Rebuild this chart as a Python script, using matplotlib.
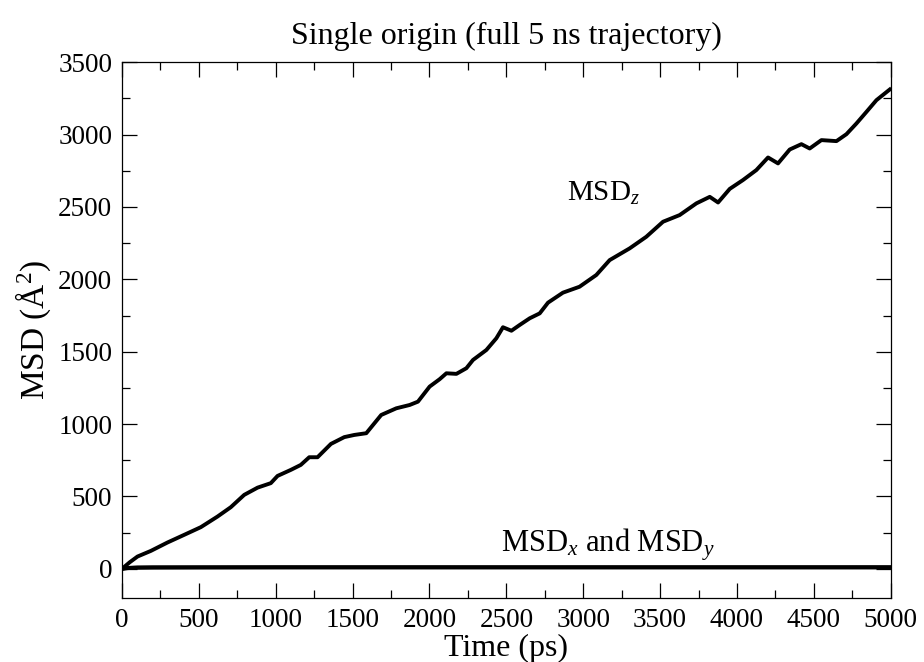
import matplotlib.pyplot as plt
from matplotlib.ticker import MultipleLocator

# values
time_z = [0, 50, 101, 188, 296, 405, 513, 621, 708, 795, 882, 968, 1012, 1099,
          1163, 1218, 1272, 1359, 1446, 1511, 1589, 1686, 1784, 1871, 1925,
          2001, 2066, 2110, 2175, 2240, 2283, 2370, 2435, 2478, 2533, 2587,
          2652, 2717, 2771, 2868, 2976, 3085, 3172, 3302, 3410, 3519, 3627,
          3736, 3823, 3877, 3953, 4039, 4126, 4202, 4267, 4343, 4419, 4473,
          4549, 4647, 4712, 4777, 4842, 4907, 4994]
msd_z = [0, 45, 85, 124, 182, 235, 288, 361, 426, 511, 561, 592, 642, 684,
         718, 771, 771, 863, 910, 925, 937, 1063, 1109, 1132, 1155, 1259,
         1310, 1351, 1347, 1386, 1443, 1512, 1593, 1669, 1645, 1685, 1731,
         1765, 1839, 1908, 1949, 2030, 2133, 2214, 2294, 2398, 2444, 2525,
         2570, 2531, 2625, 2686, 2755, 2842, 2801, 2897, 2934, 2904, 2962,
         2955, 3003, 3077, 3157, 3238, 3312]

time_xy = [0, 20, 50, 100, 200, 500, 1000, 2000, 3000, 4000, 4900, 5000]
msd_x = [0, 4, 7, 9, 10, 10, 10, 11, 10, 11, 10, 10]
msd_y = [0, 3, 6, 8, 9, 10, 11, 10, 11, 10, 11, 11]

plt.rcParams['font.family'] = ['Liberation Serif', 'DejaVu Serif']
plt.rcParams['mathtext.fontset'] = 'custom'
plt.rcParams['mathtext.rm'] = 'Liberation Serif'
plt.rcParams['mathtext.it'] = 'Liberation Serif:italic'

fig = plt.figure(figsize=(9.24, 6.62), dpi=100)
ax = fig.add_axes([0.132, 0.097, 0.832, 0.809])

ax.plot(time_z, msd_z, color='black', lw=2.8)
ax.plot(time_xy, msd_x, color='black', lw=2.8)
ax.plot(time_xy, msd_y, color='black', lw=2.8)

ax.text(3133, 2596, 'MSD$_{z}$', fontsize=21, ha='center', va='center')
ax.text(3159, 170, 'MSD$_{x}$ and MSD$_{y}$', fontsize=22, ha='center', va='center')

ax.set_xlim(0, 5000)
ax.set_ylim(-200, 3500)
ax.xaxis.set_major_locator(MultipleLocator(500))
ax.xaxis.set_minor_locator(MultipleLocator(250))
ax.yaxis.set_major_locator(MultipleLocator(500))
ax.yaxis.set_minor_locator(MultipleLocator(250))
ax.tick_params(which='both', direction='in', top=True, right=True,
               labelsize=19.5, width=0.9)
ax.tick_params(which='major', length=11, pad=7)
ax.tick_params(which='minor', length=5.5)
for s in ax.spines.values():
    s.set_linewidth(0.9)

ax.set_title('Single origin (full 5 ns trajectory)', fontsize=23, pad=13)
ax.set_xlabel('Time (ps)', fontsize=23, labelpad=1)
ax.set_ylabel('MSD (Å$^{2}$)', fontsize=24, labelpad=4)

fig.savefig('out.png', dpi=100)
